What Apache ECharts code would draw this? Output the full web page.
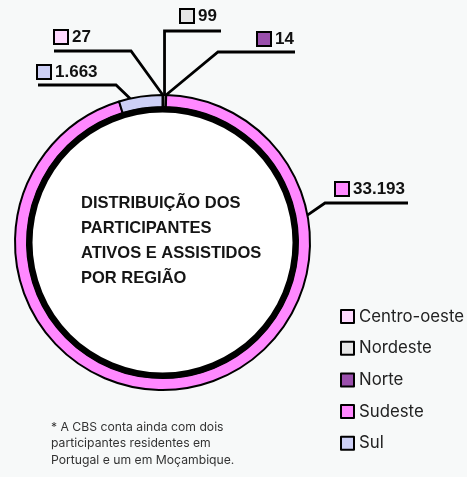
<!DOCTYPE html>
<html>
<head>
<meta charset="utf-8">
<script src="https://cdn.jsdelivr.net/npm/echarts@6/dist/echarts.min.js"></script>
<style>
    html, body { margin: 0; padding: 0; background: #f7f9f9; }
    #chart { width: 467px; height: 477px; }
</style>
</head>
<body>
<div id="chart"></div>
<script>
// dados por região (ordem da legenda)
const categories = ['Centro-oeste', 'Nordeste', 'Norte', 'Sudeste', 'Sul'];
const participantes = [27, 99, 14, 33193, 1663];

const sliceColors = ['#ffd9ff', '#e6e6e6', '#9a4fac', '#ff88ff', '#cdd0f6'];

const CX = 162.5, CY = 242.5;
const R_OUT = 147.5;

// posição das chamadas (ângulo da âncora, cotovelo, fim da linha, posição do texto)
const callouts = {
    'Centro-oeste': { angle: null, bend: [131, 51], end: [54, 51], at: [55, 37] },
    'Nordeste':     { angle: null, bend: [null, 31], end: [221, 31], at: [181, 16] },
    'Norte':        { angle: null, bend: [218, 52], end: [295, 52], at: [258, 39] },
    'Sudeste':      { angle: 10.7, bend: [325, 203], end: [408, 203], at: [336, 189] },
    'Sul':          { angle: 102.7, bend: [116, 85], end: [38, 85], at: [38, 72] }
};

const total = participantes.reduce((a, b) => a + b, 0);

function fmtNum(v) {
    return String(v).replace(/\B(?=(\d{3})+(?!\d))/g, '.');
}

function midAngle(i) {
    let before = 0;
    for (let k = 0; k < i; k++) before += participantes[k];
    return 90 - (before + participantes[i] / 2) / total * 360;
}

function anchorPoint(deg) {
    const rad = deg * Math.PI / 180;
    return [CX + R_OUT * Math.cos(rad), CY - R_OUT * Math.sin(rad)];
}

const richStyles = {
    v: { fontFamily: 'Liberation Sans', fontWeight: 'bold', fontSize: 17, color: '#111', padding: [0, 0, 0, 5] }
};
sliceColors.forEach((c, i) => {
    richStyles['b' + i] = { width: 12, height: 12, backgroundColor: c, borderColor: '#000', borderWidth: 2 };
});

const chart = echarts.init(document.getElementById('chart'));

const option = {
    backgroundColor: '#f7f9f9',
    animation: false,
    title: [{
        text: 'DISTRIBUIÇÃO DOS\nPARTICIPANTES\nATIVOS E ASSISTIDOS\nPOR REGIÃO',
        left: 81,
        top: 191,
        padding: 0,
        textStyle: { fontFamily: 'Liberation Sans', fontWeight: 'bold', fontSize: 16.5, lineHeight: 25, color: '#151515' }
    }, {
        text: '* A CBS conta ainda com dois\nparticipantes residentes em\nPortugal e um em Moçambique.',
        left: 51,
        top: 419,
        padding: 0,
        textStyle: { fontFamily: 'Inter', fontWeight: 'normal', fontSize: 12.2, lineHeight: 16.5, color: '#333' }
    }],
    legend: {
        orient: 'vertical',
        left: 335,
        top: 303,
        itemWidth: 13,
        itemHeight: 13,
        itemGap: 14.7,
        icon: 'rect',
        itemStyle: { borderColor: '#000', borderWidth: 2 },
        textStyle: { fontFamily: 'Inter', fontSize: 16.8, color: '#222' },
        data: categories
    },
    series: [{
        // disco branco central
        type: 'pie',
        silent: true,
        center: [CX, CY],
        radius: [0, 131],
        label: { show: false },
        labelLine: { show: false },
        itemStyle: { color: '#ffffff', borderWidth: 0 },
        data: [{ value: 1, name: 'centro' }],
        z: 1
    }, {
        type: 'pie',
        center: [CX, CY],
        radius: [135.5, R_OUT],
        startAngle: 90,
        clockwise: true,
        avoidLabelOverlap: false,
        itemStyle: { borderColor: '#000', borderWidth: 2 },
        emphasis: { disabled: true },
        label: {
            show: true,
            position: 'outside',
            formatter: p => `{b${p.dataIndex}|}{v|${fmtNum(p.value)}}`,
            rich: richStyles
        },
        labelLine: {
            show: true,
            length: 10,
            length2: 10,
            lineStyle: { color: '#000', width: 2.8 }
        },
        labelLayout: function (params) {
            const i = params.dataIndex;
            const c = callouts[categories[i]];
            const a = anchorPoint(c.angle === null ? midAngle(i) : c.angle);
            const bend = [c.bend[0] === null ? a[0] : c.bend[0], c.bend[1]];
            return {
                x: c.at[0],
                y: c.at[1],
                align: 'left',
                verticalAlign: 'middle',
                labelLinePoints: [a, bend, c.end]
            };
        },
        data: categories.map((name, i) => ({
            name: name,
            value: participantes[i],
            itemStyle: { color: sliceColors[i] }
        })),
        z: 2
    }, {
        // anel preto interno
        type: 'pie',
        silent: true,
        center: [CX, CY],
        radius: [130, 136],
        label: { show: false },
        labelLine: { show: false },
        itemStyle: { color: '#000', borderWidth: 0 },
        data: [{ value: 1, name: 'anel' }],
        z: 3
    }]
};

chart.setOption(option);
</script>
</body>
</html>
